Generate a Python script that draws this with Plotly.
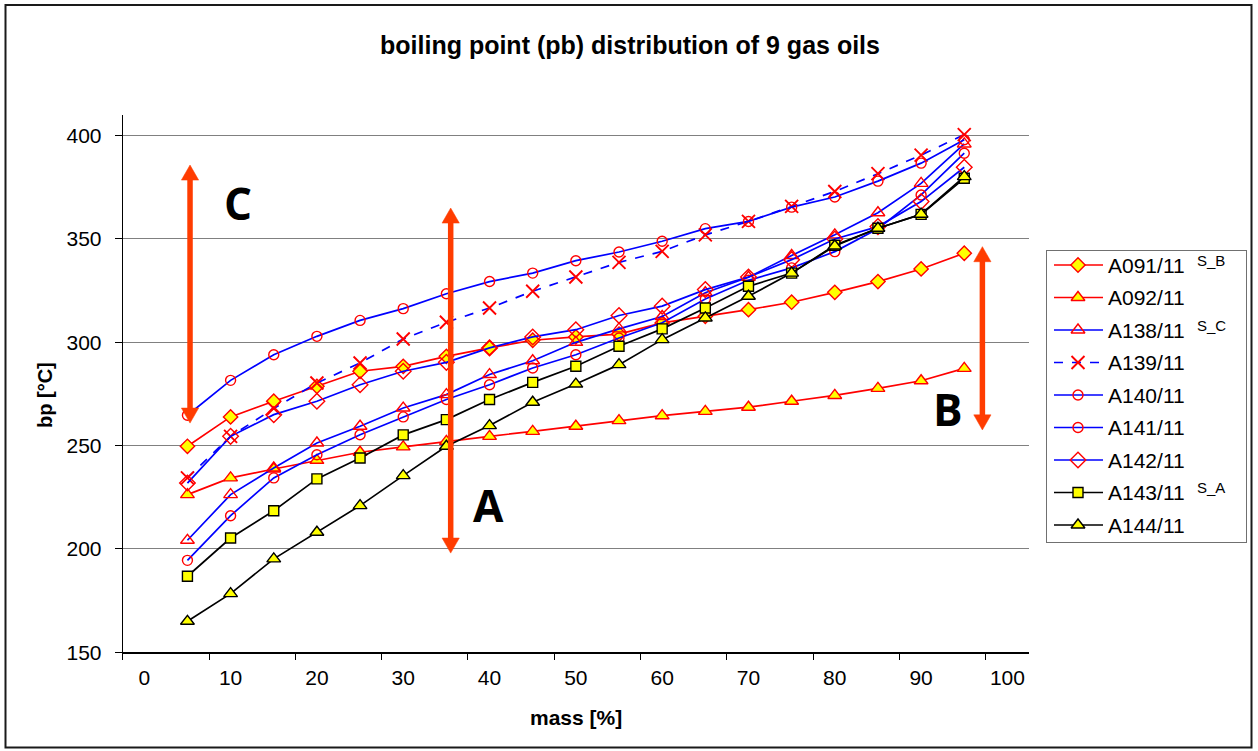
import plotly.graph_objects as go

W, H = 1258, 751

mass = [5, 10, 15, 20, 25, 30, 35, 40, 45, 50, 55, 60, 65, 70, 75, 80, 85, 90, 95]

A091 = [249.7, 263.9, 271.5, 278.7, 286.0, 288.4, 293.2, 297.3, 301.0, 302.6, 304.0, 309.4, 312.6, 315.8, 319.4, 324.2, 329.4, 335.5, 343.1]
A092 = [226.3, 234.4, 238.7, 242.9, 246.8, 249.4, 252.1, 254.5, 256.9, 259.4, 262.1, 264.5, 266.6, 268.6, 271.5, 274.3, 277.7, 281.4, 287.4]
A138 = [204.2, 226.3, 239.2, 251.3, 259.4, 268.2, 274.7, 284.4, 291.1, 300.0, 306.5, 312.5, 324.0, 331.5, 342.0, 352.0, 362.7, 376.9, 396.0]
A139 = [234.4, 254.5, 268.0, 280.3, 290.0, 301.6, 309.7, 316.6, 324.7, 331.6, 338.7, 344.0, 352.0, 358.5, 365.8, 373.0, 381.6, 390.6, 400.5]
A140 = [264.7, 281.6, 294.0, 302.9, 310.6, 316.3, 323.5, 329.4, 333.5, 339.5, 343.7, 348.9, 355.0, 358.5, 365.4, 370.3, 378.0, 386.7, 398.0]
A141 = [194.5, 216.1, 234.4, 245.6, 255.3, 263.9, 272.3, 279.5, 287.6, 294.0, 302.1, 309.5, 321.0, 330.0, 336.0, 343.9, 355.0, 371.3, 391.5]
A142 = [231.9, 254.5, 265.0, 271.5, 279.5, 286.0, 290.3, 297.3, 302.6, 306.1, 313.0, 317.5, 325.5, 331.6, 340.0, 350.0, 356.0, 368.1, 384.7]
A143 = [186.8, 205.3, 218.5, 233.9, 244.0, 255.2, 262.6, 272.3, 280.6, 288.4, 298.1, 306.5, 316.6, 327.1, 333.5, 347.0, 355.2, 361.9, 379.4]
A144 = [165.0, 178.4, 195.2, 208.1, 221.0, 235.5, 249.7, 259.7, 271.0, 279.8, 289.2, 301.3, 311.8, 322.3, 333.5, 346.6, 355.2, 362.0, 380.2]

names = ["A091/11", "A092/11", "A138/11", "A139/11", "A140/11", "A141/11", "A142/11", "A143/11", "A144/11"]
tags = ["S_B", "", "S_C", "", "", "", "", "S_A", ""]
series = [A091, A092, A138, A139, A140, A141, A142, A143, A144]

x_ticks = [0, 10, 20, 30, 40, 50, 60, 70, 80, 90, 100]
y_ticks = [150, 200, 250, 300, 350, 400]

# arrows: (x, y_top, y_bottom), letters: (text, x, y)
arrows = [(5.3, 385.8, 260.9), (35.5, 365.0, 198.0), (97.1, 346.3, 257.6)]
letters = [("C", 10.9, 367.4), ("A", 39.9, 221.3), ("B", 93.1, 267.7)]

RED = "#FF0000"
BLUE = "#0000FF"
BLACK = "#000000"
YEL = "#FFFF00"
ARROW = "#FF3C00"
FONT = "Liberation Sans, Arial"

styles = [
    dict(line=dict(color=RED, width=1.7), marker=dict(symbol="diamond", size=11, color=YEL, line=dict(color=RED, width=1.4))),
    dict(line=dict(color=RED, width=1.7), marker=dict(symbol="triangle-up", size=12, color=YEL, line=dict(color=RED, width=1.4))),
    dict(line=dict(color=BLUE, width=1.7), marker=dict(symbol="triangle-up-open", size=12, color=RED, line=dict(color=RED, width=1.4))),
    dict(line=dict(color=BLUE, width=1.7, dash="dash"), marker=dict(symbol="x-thin-open", size=13, color=RED, line=dict(color=RED, width=1.9))),
    dict(line=dict(color=BLUE, width=1.7), marker=dict(symbol="circle-open", size=10, color=RED, line=dict(color=RED, width=1.4))),
    dict(line=dict(color=BLUE, width=1.7), marker=dict(symbol="circle-open", size=10, color=RED, line=dict(color=RED, width=1.4))),
    dict(line=dict(color=BLUE, width=1.7), marker=dict(symbol="diamond-open", size=12, color=RED, line=dict(color=RED, width=1.4))),
    dict(line=dict(color=BLACK, width=1.7), marker=dict(symbol="square", size=10, color=YEL, line=dict(color=BLACK, width=1.4))),
    dict(line=dict(color=BLACK, width=1.7), marker=dict(symbol="triangle-up", size=12, color=YEL, line=dict(color=BLACK, width=1.4))),
]

fig = go.Figure()

for nm, ys, st in zip(names, series, styles):
    fig.add_trace(go.Scatter(x=mass, y=ys, mode="lines+markers", name=nm,
                             line=st["line"], marker=st["marker"], showlegend=False,
                             xaxis="x", yaxis="y"))

# plot area in pixels
PL, PR, PT, PB = 122.7, 1029, 115, 652.3
# legend box in pixels
LL, LR, LT, LB = 1046, 1247, 250, 543
item_y0, item_dy = 265, 32.5

for i, (nm, st) in enumerate(zip(names, styles)):
    yy = item_y0 + i * item_dy
    fig.add_trace(go.Scatter(x=[1054, 1103], y=[yy, yy], mode="lines", line=st["line"],
                             showlegend=False, hoverinfo="skip", xaxis="x2", yaxis="y2"))
    fig.add_trace(go.Scatter(x=[1078], y=[yy], mode="markers", marker=st["marker"],
                             showlegend=False, hoverinfo="skip", xaxis="x2", yaxis="y2"))

annotations = []
for i, (nm, tg) in enumerate(zip(names, tags)):
    yy = item_y0 + i * item_dy
    annotations.append(dict(x=1106, y=yy, xref="x2", yref="y2", text=nm, showarrow=False,
                            xanchor="left", yanchor="middle",
                            font=dict(family=FONT, size=21, color="black")))
    if tg:
        annotations.append(dict(x=1195, y=yy - 5, xref="x2", yref="y2", text=tg, showarrow=False,
                                xanchor="left", yanchor="middle",
                                font=dict(family=FONT, size=15, color="black")))

for t, lx, ly in letters:
    annotations.append(dict(x=lx, y=ly, xref="x", yref="y", text=t, showarrow=False,
                            xanchor="center", yanchor="middle",
                            font=dict(family="Open Sans", size=44, color="black", weight="bold")))

annotations.append(dict(x=45 / W, y=1 - 395 / H, xref="paper", yref="paper", text="<b>bp [°C]</b>",
                        showarrow=False, textangle=-90, xanchor="center", yanchor="middle",
                        font=dict(family=FONT, size=20, color="black")))
annotations.append(dict(x=576 / W, y=1 - 717 / H, xref="paper", yref="paper", text="<b>mass [%]</b>",
                        showarrow=False, xanchor="center", yanchor="middle",
                        font=dict(family=FONT, size=21, color="black")))

shapes = []
# arrows
hw = 1.0   # half width of head in x units
hh = 7.3   # head height in y units
for ax_, yt, yb in arrows:
    shapes.append(dict(type="line", xref="x", yref="y", x0=ax_, x1=ax_, y0=yb + hh * 0.8, y1=yt - hh * 0.8,
                       line=dict(color=ARROW, width=5.5)))
    shapes.append(dict(type="path", xref="x", yref="y",
                       path=f"M {ax_ - hw} {yt - hh} L {ax_ + hw} {yt - hh} L {ax_} {yt} Z",
                       fillcolor=ARROW, line=dict(color=ARROW, width=0.5)))
    shapes.append(dict(type="path", xref="x", yref="y",
                       path=f"M {ax_ - hw} {yb + hh} L {ax_ + hw} {yb + hh} L {ax_} {yb} Z",
                       fillcolor=ARROW, line=dict(color=ARROW, width=0.5)))

# legend box
shapes.append(dict(type="rect", xref="x2", yref="y2", x0=LL, x1=LR, y0=LT, y1=LB,
                   line=dict(color="#707070", width=2), fillcolor="rgba(0,0,0,0)", layer="below"))
# outer border
shapes.append(dict(type="rect", xref="paper", yref="paper", x0=5.5 / W, x1=1251.5 / W,
                   y0=1 - 747.5 / H, y1=1 - 5 / H, line=dict(color="#1a1a1a", width=2),
                   fillcolor="rgba(0,0,0,0)"))

tickfont = dict(family=FONT, size=21, color="black")

fig.update_layout(
    width=W, height=H,
    margin=dict(l=0, r=0, t=0, b=0),
    paper_bgcolor="white", plot_bgcolor="white",
    showlegend=False,
    title=dict(text="<b>boiling point (pb) distribution of 9 gas oils</b>", x=630 / W, xanchor="center",
               y=1 - 45 / H, yanchor="middle", xref="paper", yref="paper",
               font=dict(family=FONT, size=25, color="black")),
    xaxis=dict(domain=[PL / W, PR / W], range=[-2.5, 102.5], tickvals=x_ticks,
               ticktext=[str(v) for v in x_ticks], ticks="", showgrid=False, zeroline=False,
               showline=True, linecolor="black", linewidth=1.8, tickfont=tickfont,
               ticklabelstandoff=6, automargin=False,
               minor=dict(ticks="outside", tick0=-2.5, dtick=10, ticklen=6, tickcolor="black",
                          tickwidth=1, showgrid=False)),
    yaxis=dict(domain=[1 - PB / H, 1 - PT / H], range=[150, 410], tickvals=y_ticks,
               ticks="outside", ticklen=7, tickcolor="black", showgrid=True, gridcolor="#808080",
               gridwidth=1, zeroline=False, showline=True, linecolor="black", linewidth=1,
               tickfont=tickfont, ticklabelstandoff=9, automargin=False),
    xaxis2=dict(domain=[LL / W, LR / W], range=[LL, LR], visible=False, anchor="y2"),
    yaxis2=dict(domain=[1 - LB / H, 1 - LT / H], range=[LB, LT], visible=False, anchor="x2"),
    annotations=annotations,
    shapes=shapes,
)

fig.write_html("out.html")
